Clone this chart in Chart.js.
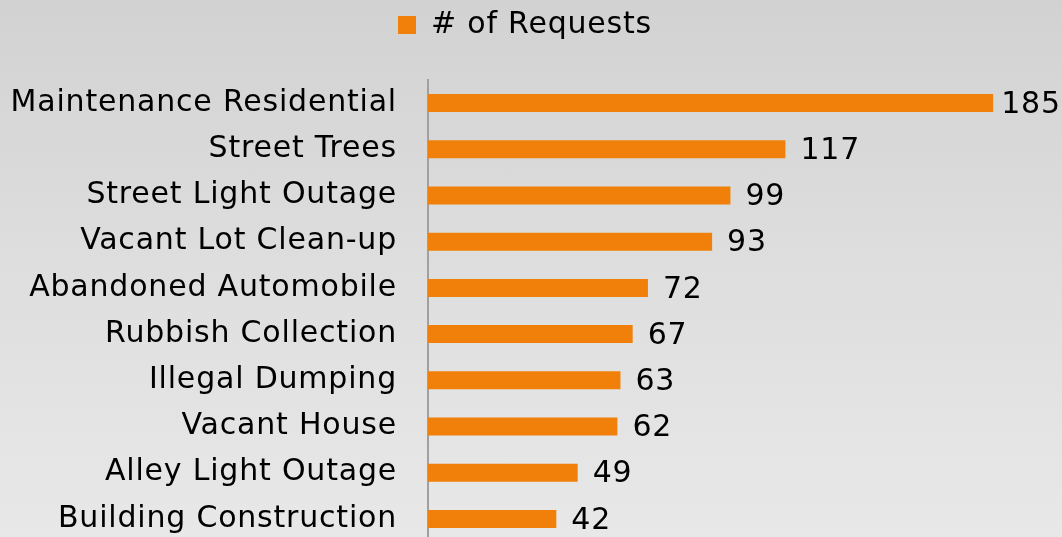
<!DOCTYPE html>
<html>
<head>
<meta charset="utf-8">
<script src="https://cdn.jsdelivr.net/npm/chart.js@4/dist/chart.umd.min.js"></script>
<style>
  html, body { margin: 0; padding: 0; overflow: hidden; }
  body {
    width: 1062px; height: 537px;
    background: linear-gradient(to bottom, #d2d2d2 0%, #dedede 50%, #e8e8e8 100%);
  }
  canvas { display: block; }
</style>
</head>
<body>
<canvas id="chart" width="1062" height="542"></canvas>
<script>
// values
const categories = [
  'Maintenance Residential', 'Street Trees', 'Street Light Outage',
  'Vacant Lot Clean-up', 'Abandoned Automobile', 'Rubbish Collection',
  'Illegal Dumping', 'Vacant House', 'Alley Light Outage', 'Building Construction'
];
const requests = [185, 117, 99, 93, 72, 67, 63, 62, 49, 42];
const seriesName = '# of Requests';

const FONT = "'DejaVu Sans', Verdana, sans-serif";
const SPACING = '0.8px';

// slightly wider text, closer to Verdana
const wideText = {
  id: 'wideText',
  beforeUpdate(chart) { chart.ctx.letterSpacing = SPACING; },
  beforeDraw(chart) { chart.ctx.letterSpacing = SPACING; }
};

// push the plot down below the legend
const legendSpacer = {
  id: 'legendSpacer',
  beforeInit(chart) {
    const fit = chart.legend.fit;
    chart.legend.fit = function () {
      fit.bind(chart.legend)();
      this.height += 30;
    };
  }
};

// value labels at the end of each bar
const barValues = {
  id: 'barValues',
  afterDatasetsDraw(chart) {
    const ctx = chart.ctx;
    const meta = chart.getDatasetMeta(0);
    ctx.save();
    ctx.font = '30px ' + FONT;
    ctx.fillStyle = '#000';
    ctx.textAlign = 'left';
    ctx.textBaseline = 'middle';
    meta.data.forEach((bar, i) => {
      const txt = String(chart.data.datasets[0].data[i]);
      const w = ctx.measureText(txt).width;
      const x = Math.min(bar.x + 15, Math.max(bar.x + 8, chart.width - 4 - w));
      ctx.fillText(txt, x, bar.y + 2);
    });
    ctx.restore();
  }
};

new Chart(document.getElementById('chart'), {
  type: 'bar',
  data: {
    labels: categories,
    datasets: [{
      label: seriesName,
      data: requests,
      backgroundColor: '#f0800a',
      borderWidth: 0,
      barPercentage: 0.78,
      categoryPercentage: 0.5
    }]
  },
  options: {
    indexAxis: 'y',
    responsive: false,
    animation: false,
    layout: { padding: { top: 0, right: 23, left: 11, bottom: 0 } },
    plugins: {
      legend: {
        position: 'top',
        labels: {
          color: '#000',
          font: { family: FONT, size: 30 },
          boxWidth: 18,
          boxHeight: 18,
          padding: 10
        }
      },
      tooltip: { enabled: false }
    },
    scales: {
      x: {
        display: false,
        min: 0,
        max: 200
      },
      y: {
        grid: { display: false, drawTicks: false },
        border: { display: true, color: '#a0a0a0', width: 2 },
        ticks: {
          color: '#000',
          font: { family: FONT, size: 30 },
          padding: 31
        },
        afterFit(scale) {
          scale.width = 417;
          scale.paddingTop = 0;
          scale.paddingBottom = 0;
        }
      }
    }
  },
  plugins: [wideText, legendSpacer, barValues]
});
</script>
</body>
</html>
